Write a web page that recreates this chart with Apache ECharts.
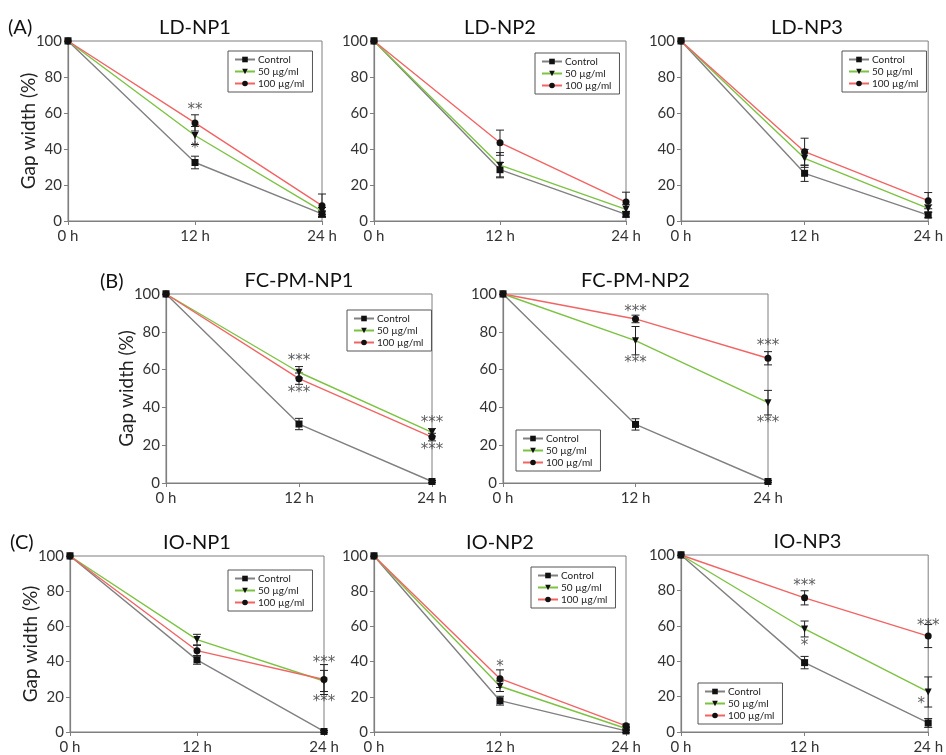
<!DOCTYPE html>
<html>
<head>
<meta charset="utf-8">
<script src="https://cdn.jsdelivr.net/npm/echarts@6/dist/echarts.min.js"></script>
<style>
html, body { margin: 0; padding: 0; background: #fff; }
#chart { width: 946px; height: 755px; }
</style>
</head>
<body>
<div id="chart"></div>
<script>
// time points and legend names
var hours = [0, 12, 24];
var seriesNames = ['Control', '50 µg/ml', '100 µg/ml'];

// (A) LD-NP
var ldNp1Ctrl = [100, 32.5, 4];
var ldNp1C50 = [100, 47.5, 5.5];
var ldNp1C100 = [100, 54.5, 8.5];
var ldNp1CtrlErr = [0, 3.5, 1.5];
var ldNp1C50Err = [0, 5, 2];
var ldNp1C100Err = [0, 4.5, 6.5];
var ldNp1Stars = [[12, 64, '**'], [12, 42, '*']];

var ldNp2Ctrl = [100, 28.5, 3.7];
var ldNp2C50 = [100, 31, 6.5];
var ldNp2C100 = [100, 43.5, 10.5];
var ldNp2CtrlErr = [0, 4, 1.5];
var ldNp2C50Err = [0, 7, 2.5];
var ldNp2C100Err = [0, 7, 5.5];
var ldNp2Stars = [];

var ldNp3Ctrl = [100, 26.5, 3.3];
var ldNp3C50 = [100, 34.8, 7];
var ldNp3C100 = [100, 38.5, 11.3];
var ldNp3CtrlErr = [0, 4.5, 1.5];
var ldNp3C50Err = [0, 5, 2];
var ldNp3C100Err = [0, 7.5, 4.5];
var ldNp3Stars = [];

// (B) FC-PM-NP
var fcNp1Ctrl = [100, 31.2, 0.8];
var fcNp1C50 = [100, 58.6, 26.8];
var fcNp1C100 = [100, 55.2, 24.3];
var fcNp1CtrlErr = [0, 3, 0.5];
var fcNp1C50Err = [0, 3, 2];
var fcNp1C100Err = [0, 3, 2];
var fcNp1Stars = [[12, 66.5, '***'], [12, 49.5, '***'], [24, 34, '***'], [24, 19.5, '***']];

var fcNp2Ctrl = [100, 31, 0.8];
var fcNp2C50 = [100, 75.3, 42.5];
var fcNp2C100 = [100, 86.8, 66];
var fcNp2CtrlErr = [0, 3, 0.5];
var fcNp2C50Err = [0, 7.5, 6.5];
var fcNp2C100Err = [0, 2, 3.5];
var fcNp2Stars = [[12, 92.5, '***'], [12, 65.5, '***'], [24, 74.3, '***'], [24, 34, '***']];

// (C) IO-NP
var ioNp1Ctrl = [100, 41, 0.3];
var ioNp1C50 = [100, 52.5, 29];
var ioNp1C100 = [100, 46.2, 29.8];
var ioNp1CtrlErr = [0, 2.5, 0.5];
var ioNp1C50Err = [0, 3, 6];
var ioNp1C100Err = [0, 3, 8.5];
var ioNp1Stars = [[24, 41.6, '***'], [24, 19.5, '***']];

var ioNp2Ctrl = [100, 17.8, 0.6];
var ioNp2C50 = [100, 26, 2];
var ioNp2C100 = [100, 30.3, 3.5];
var ioNp2CtrlErr = [0, 2.5, 1];
var ioNp2C50Err = [0, 3, 1];
var ioNp2C100Err = [0, 5, 1];
var ioNp2Stars = [[12, 39, '*']];

var ioNp3Ctrl = [100, 39.2, 5.1];
var ioNp3C50 = [100, 58.2, 22.6];
var ioNp3C100 = [100, 75.8, 54.2];
var ioNp3CtrlErr = [0, 3.5, 2.5];
var ioNp3C50Err = [0, 4.5, 8.5];
var ioNp3C100Err = [0, 4, 6.5];
var ioNp3Stars = [[12, 84.7, '***'], [12, 51, '*'], [24, 62, '***'], [24, 18, '*', -7]];

var panels = [
    {title: 'LD-NP1', grid: [68, 41, 254, 180], legend: [228, 51], yName: true,
        ctrl: ldNp1Ctrl, c50: ldNp1C50, c100: ldNp1C100, err: [ldNp1CtrlErr, ldNp1C50Err, ldNp1C100Err], stars: ldNp1Stars},
    {title: 'LD-NP2', grid: [374, 41, 252, 180], legend: [535, 53],
        ctrl: ldNp2Ctrl, c50: ldNp2C50, c100: ldNp2C100, err: [ldNp2CtrlErr, ldNp2C50Err, ldNp2C100Err], stars: ldNp2Stars},
    {title: 'LD-NP3', grid: [681, 41, 252, 180], legend: [842, 51],
        ctrl: ldNp3Ctrl, c50: ldNp3C50, c100: ldNp3C100, err: [ldNp3CtrlErr, ldNp3C50Err, ldNp3C100Err], stars: ldNp3Stars},
    {title: 'FC-PM-NP1', grid: [166, 294, 266, 189], legend: [347, 310], yName: true,
        ctrl: fcNp1Ctrl, c50: fcNp1C50, c100: fcNp1C100, err: [fcNp1CtrlErr, fcNp1C50Err, fcNp1C100Err], stars: fcNp1Stars},
    {title: 'FC-PM-NP2', grid: [503, 294, 265, 189], legend: [516, 430],
        ctrl: fcNp2Ctrl, c50: fcNp2C50, c100: fcNp2C100, err: [fcNp2CtrlErr, fcNp2C50Err, fcNp2C100Err], stars: fcNp2Stars},
    {title: 'IO-NP1', grid: [70, 556, 254, 181], legend: [228, 570], yName: true,
        ctrl: ioNp1Ctrl, c50: ioNp1C50, c100: ioNp1C100, err: [ioNp1CtrlErr, ioNp1C50Err, ioNp1C100Err], stars: ioNp1Stars},
    {title: 'IO-NP2', grid: [374, 556, 252, 181], legend: [531, 567],
        ctrl: ioNp2Ctrl, c50: ioNp2C50, c100: ioNp2C100, err: [ioNp2CtrlErr, ioNp2C50Err, ioNp2C100Err], stars: ioNp2Stars},
    {title: 'IO-NP3', grid: [681, 555, 253, 181], legend: [698, 683],
        ctrl: ioNp3Ctrl, c50: ioNp3C50, c100: ioNp3C100, err: [ioNp3CtrlErr, ioNp3C50Err, ioNp3C100Err], stars: ioNp3Stars}
];

var FONT = 'Lato, "Open Sans", sans-serif';
var AXIS_COLOR = '#7f7f7f';
var lineColors = ['#808080', '#7cc243', '#f26464'];
var symbols = ['rect', 'triangle', 'circle'];
var symbolRotates = [0, 180, 0];

var grids = [], xAxes = [], yAxes = [], legends = [], series = [], graphics = [];

function toPairs(vals) {
    return hours.map(function (h, i) { return [h, vals[i]]; });
}

function renderErrorBar(params, api) {
    var x = api.value(0);
    var lo = api.coord([x, api.value(1)]);
    var hi = api.coord([x, api.value(2)]);
    var cap = 4;
    var style = {stroke: '#222', lineWidth: 1};
    return {
        type: 'group',
        children: [
            {type: 'line', shape: {x1: lo[0], y1: lo[1], x2: hi[0], y2: hi[1]}, style: style},
            {type: 'line', shape: {x1: lo[0] - cap, y1: lo[1], x2: lo[0] + cap, y2: lo[1]}, style: style},
            {type: 'line', shape: {x1: hi[0] - cap, y1: hi[1], x2: hi[0] + cap, y2: hi[1]}, style: style}
        ]
    };
}

panels.forEach(function (p, k) {
    var g = p.grid;
    grids.push({
        left: g[0], top: g[1], width: g[2], height: g[3],
        show: true, borderColor: AXIS_COLOR, borderWidth: 1, backgroundColor: 'transparent'
    });
    xAxes.push({
        gridIndex: k, type: 'value', min: 0, max: 24, interval: 12,
        axisLine: {show: true, lineStyle: {color: AXIS_COLOR, width: 1.2}},
        axisTick: {show: true, length: 4, lineStyle: {color: AXIS_COLOR}},
        splitLine: {show: false},
        axisLabel: {color: '#333', fontSize: 15, fontFamily: FONT, margin: 8,
            formatter: function (v) { return v + ' h'; }}
    });
    yAxes.push({
        gridIndex: k, type: 'value', min: 0, max: 100, interval: 20,
        name: p.yName ? 'Gap width (%)' : '',
        nameLocation: 'middle', nameGap: 30, nameMoveOverlap: false,
        nameTextStyle: {color: '#222', fontSize: 19, fontFamily: FONT},
        axisLine: {show: true, lineStyle: {color: AXIS_COLOR, width: 1.2}},
        axisTick: {show: true, length: 4, lineStyle: {color: AXIS_COLOR}},
        splitLine: {show: false},
        axisLabel: {color: '#333', fontSize: 15, fontFamily: FONT, margin: 6}
    });
    legends.push({
        left: p.legend[0], top: p.legend[1], orient: 'vertical',
        data: seriesNames, selectedMode: false,
        borderColor: '#555', borderWidth: 1, padding: [3, 8, 3, 6],
        itemGap: 1, itemWidth: 20, itemHeight: 7,
        textStyle: {fontSize: 10, fontFamily: FONT, color: '#222', lineHeight: 11, padding: [0, 0, 0, -2]}
    });
    [p.ctrl, p.c50, p.c100].forEach(function (vals, s) {
        series.push({
            name: seriesNames[s], type: 'line', xAxisIndex: k, yAxisIndex: k,
            data: toPairs(vals),
            symbol: symbols[s], symbolRotate: symbolRotates[s], symbolSize: 7,
            showSymbol: true,
            itemStyle: {color: '#111'},
            lineStyle: {color: lineColors[s], width: 1.4},
            z: 3 + s
        });
    });
    var errData = [];
    p.err.forEach(function (e, s) {
        var vals = [p.ctrl, p.c50, p.c100][s];
        hours.forEach(function (h, i) {
            if (e[i] > 0) errData.push([h, vals[i] - e[i], vals[i] + e[i]]);
        });
    });
    series.push({
        type: 'custom', xAxisIndex: k, yAxisIndex: k,
        renderItem: renderErrorBar, data: errData,
        encode: {x: 0, y: [1, 2]}, z: 2, silent: true
    });
    series.push({
        type: 'scatter', xAxisIndex: k, yAxisIndex: k, symbolSize: 1,
        itemStyle: {color: 'transparent'}, silent: true, z: 8,
        label: {show: true, position: 'inside', formatter: '{b}', fontSize: 15,
            fontFamily: '"DejaVu Sans", sans-serif', color: '#333'},
        data: p.stars.map(function (st) {
            return {name: st[2], value: [st[0], st[1]], label: {offset: [st[3] || 0, 4]}};
        })
    });
    graphics.push({
        type: 'text', x: g[0] + g[2] / 2, y: g[1] - 13,
        style: {text: p.title, fontSize: 20, fontFamily: FONT, fill: '#111',
            align: 'center', verticalAlign: 'middle'}
    });
});

graphics.push(
    {type: 'text', x: 8, y: 28, style: {text: '(A)', fontSize: 20, fontFamily: FONT, fill: '#111', verticalAlign: 'middle'}},
    {type: 'text', x: 100, y: 282, style: {text: '(B)', fontSize: 20, fontFamily: FONT, fill: '#111', verticalAlign: 'middle'}},
    {type: 'text', x: 10, y: 543, style: {text: '(C)', fontSize: 20, fontFamily: FONT, fill: '#111', verticalAlign: 'middle'}}
);

var chart = echarts.init(document.getElementById('chart'));
chart.setOption({
    animation: false,
    backgroundColor: '#fff',
    grid: grids,
    xAxis: xAxes,
    yAxis: yAxes,
    legend: legends,
    series: series,
    graphic: graphics
});
</script>
</body>
</html>
